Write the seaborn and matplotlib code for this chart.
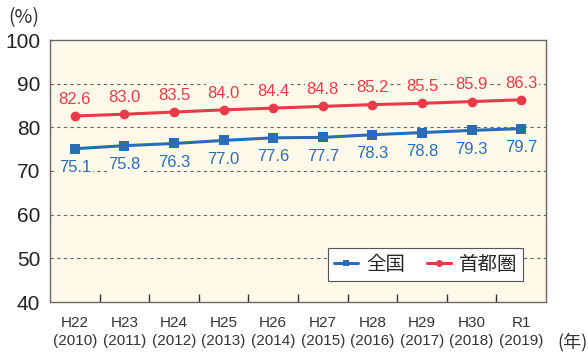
import matplotlib
matplotlib.use("Agg")
import matplotlib.pyplot as plt
import seaborn as sns
import pandas as pd
import numpy as np

categories = ["H22\n(2010)", "H23\n(2011)", "H24\n(2012)", "H25\n(2013)", "H26\n(2014)",
              "H27\n(2015)", "H28\n(2016)", "H29\n(2017)", "H30\n(2018)", "R1\n(2019)"]
national = [75.1, 75.8, 76.3, 77.0, 77.6, 77.7, 78.3, 78.8, 79.3, 79.7]
capital = [82.6, 83.0, 83.5, 84.0, 84.4, 84.8, 85.2, 85.5, 85.9, 86.3]
series_names = ["全国", "首都圏"]
yticks = [40, 50, 60, 70, 80, 90, 100]

sns.set_theme(style="white")
plt.rcParams["font.family"] = ["Liberation Sans", "Noto Sans CJK JP", "DejaVu Sans"]

blue = "#2a6db5"
red = "#e83a48"
panel = "#fef9e8"

df = pd.DataFrame({
    "idx": list(range(len(categories))) * 2,
    "value": national + capital,
    "series": [series_names[0]] * len(national) + [series_names[1]] * len(capital),
})

fig = plt.figure(figsize=(5.88, 3.56), dpi=100)
ax = fig.add_axes([50 / 588, 1 - 302 / 356, 496 / 588, 262 / 356])
ax.set_facecolor(panel)

sns.lineplot(data=df, x="idx", y="value", hue="series", style="series",
             palette=[blue, red], markers=["s", "o"], dashes=False,
             markersize=7, linewidth=2.2, markeredgewidth=0, ax=ax)

ax.set_xlim(-0.5, len(categories) - 0.5)
ax.set_ylim(40, 100)
ax.set_xlabel("")
ax.set_ylabel("")

for y in yticks[1:-1]:
    ax.axhline(y, color="#666666", linestyle=(0, (3, 3)), linewidth=0.8, zorder=0)

ax.set_yticks(yticks)
ax.set_yticklabels([str(v) for v in yticks], fontsize=15, color="#222222")
ax.tick_params(axis="y", length=0, pad=7)

ax.set_xticks(range(len(categories)))
ax.set_xticklabels(categories, fontsize=11, color="#333333",
                   family=["Liberation Sans Narrow", "Liberation Sans"], linespacing=1.4)
ax.tick_params(axis="x", which="major", length=0, pad=10)
ax.set_xticks(np.arange(0.5, len(categories) - 0.5, 1), minor=True)
ax.tick_params(axis="x", which="minor", direction="in", length=6, width=1, color="#333333", bottom=True)

for s in ax.spines.values():
    s.set_color("#666666")
    s.set_linewidth(1)

label_box = dict(boxstyle="square,pad=0.1", facecolor=panel, edgecolor="none")
for i, v in enumerate(capital):
    ax.annotate(f"{v:.1f}", (i, v), xytext=(0, 12), textcoords="offset points",
                ha="center", va="center", fontsize=12, color=red, bbox=label_box, zorder=1)
for i, v in enumerate(national):
    ax.annotate(f"{v:.1f}", (i, v), xytext=(0, -13.5), textcoords="offset points",
                ha="center", va="center", fontsize=12, color=blue, bbox=label_box, zorder=1)

handles, labels = ax.get_legend_handles_labels()
leg = ax.legend(handles, labels, loc="lower right", bbox_to_anchor=(473 / 496, 21 / 262),
                borderaxespad=0, ncol=2, frameon=True, fancybox=False,
                prop={"family": ["Noto Sans CJK JP"], "size": 14},
                handlelength=1.25, handletextpad=0.4, columnspacing=1.1, borderpad=0.3)
for h in leg.legend_handles:
    h.set_markersize(5)
leg.get_frame().set_edgecolor("#555555")
leg.get_frame().set_linewidth(0.8)
leg.get_frame().set_facecolor("white")
leg.get_frame().set_alpha(1)

fig.text(8 / 588, 1 - 18 / 356, "(%)", fontsize=14, color="#333333",
         family=["Noto Sans CJK JP"], va="center", ha="left")
fig.text(588 / 588, 1 - 342 / 356, "(年)", fontsize=13, color="#333333",
         family=["Noto Sans CJK JP"], va="center", ha="right")

fig.savefig("out.png", dpi=100, facecolor="white")
